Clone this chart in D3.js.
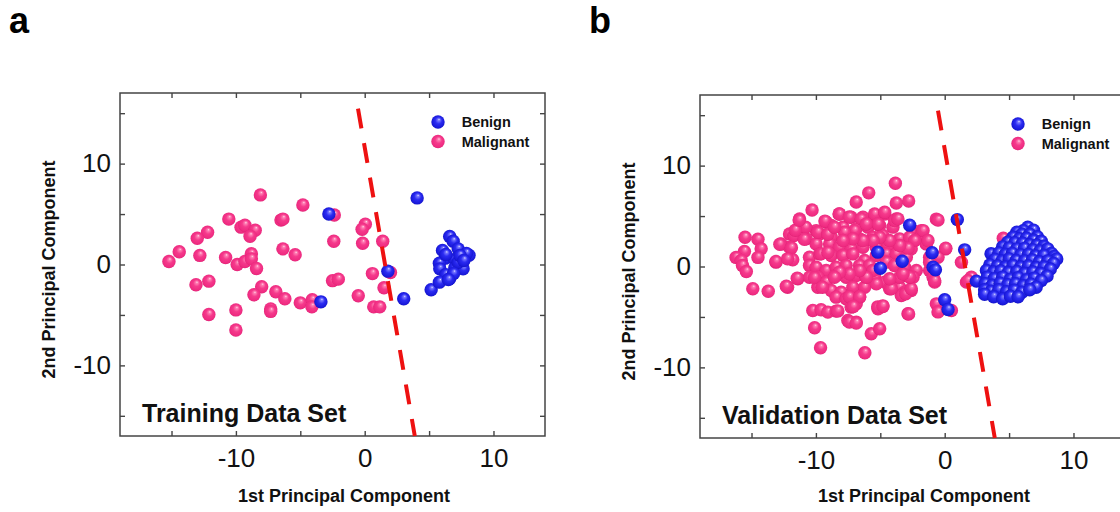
<!DOCTYPE html>
<html><head><meta charset="utf-8">
<script src="https://cdn.jsdelivr.net/npm/d3@7/dist/d3.min.js"></script>
<style>
html,body{margin:0;padding:0;background:#fff;}
text{font-family:"Liberation Sans",Arial,sans-serif;}
</style></head>
<body><svg id="c" width="1120" height="512"></svg>
<script>
// ---------- DATA ----------
const xTicks = [-15, -10, -5, 0, 5, 10];
const yTicks = [-15, -10, -5, 0, 5, 10, 15];
const labeledTicks = [-10, 0, 10];
const seriesNames = ["Benign", "Malignant"];
const panelTitles = ["Training Data Set", "Validation Data Set"];
const panelLetters = ["a", "b"];
const boundary = [[-0.52, 15.45], [3.89, -17]];

const trainMalignant = [
[-8.1,6.9],[-4.8,5.9],[-2.36,4.9],[-10.55,4.5],[-6.5,4.4],[-6.35,4.5],[-9.6,3.7],[-9.3,3.9],[-8.5,3.4],[-8.9,2.8],
[-12.2,3.2],[-13.0,2.6],[-2.4,2.3],[-14.4,1.26],[-15.2,0.3],[-12.8,0.9],[-10.8,0.7],[-9.9,0.0],[-9.3,0.3],[-8.8,1.06],
[-8.8,0.56],[-8.4,-0.4],[-6.35,1.55],[-5.4,0.96],[-13.1,-2.0],[-12.1,-1.65],[-8.0,-2.2],[-8.6,-3.0],[-6.9,-2.7],[-6.2,-3.4],
[-5.0,-3.8],[-4.07,-3.5],[-4.1,-4.2],[-2.5,-1.6],[-2.05,-1.45],[-12.1,-4.95],[-10.0,-4.5],[-7.3,-4.4],[-7.3,-4.65],[-10.0,-6.5],
[0.05,4.0],[-0.2,3.5],[-0.16,2.1],[1.4,2.3],[0.6,-0.9],[2.0,-0.8],[1.5,-2.3],[-0.5,-3.1],[0.7,-4.2],[1.17,-4.2]
];
const trainBenign = [
[-2.78,5.0],[4.07,6.6],[1.8,-0.66],[-3.4,-3.7],[3.03,-3.4],[5.16,-2.5],
[6.6,2.77],[6.87,2.3],[6.04,1.4],[7.26,1.55],[8.1,0.92],[7.9,1.1],[6.25,0.63],[7.0,0.5],[5.8,0.13],[5.83,-0.43],
[7.0,-0.33],[7.64,-0.43],[6.3,-1.0],[6.6,-1.4],[5.8,-1.75],[7.26,0.23],[7.4,0.9],[7.7,0.4],[6.9,-0.9],[6.5,-1.5],[6.3,1.0]
];

const valMalignant = [
[-3.83,8.25],[-5.9,7.3],[-6.87,6.4],[-3.76,6.3],[-2.8,6.5],[-10.3,5.6],[-8.2,5.2],
[-11.27,4.72],[-9.2,4.39],[-8.17,5.2],[-7.26,4.88],[-6.35,4.88],[-5.44,5.05],[-4.66,5.2],[-3.76,4.72],[-0.65,4.7],[-0.52,4.6],
[-12.05,3.23],[-11.0,3.9],[-9.98,3.56],[-8.81,4.06],[-7.9,3.9],[-6.87,3.73],[-5.96,3.9],[-5.05,4.06],[-4.02,3.9],[-2.46,3.56],[-1.81,3.56],
[-12.7,2.24],[-11.7,3.07],[-10.75,2.74],[-9.72,3.23],[-8.81,2.9],[-7.65,2.74],[-6.61,2.74],[-5.57,2.9],[-4.8,3.07],[-3.5,2.74],[-2.72,2.9],[-1.55,2.57],
[-12.05,1.91],[-9.98,2.24],[-8.94,2.24],[-8.17,1.91],[-7.26,1.75],[-6.35,1.91],[-5.31,1.91],[-4.41,2.08],[-3.5,1.91],[-2.6,1.75],[-1.43,2.24],[0.08,1.75],
[-13.1,0.43],[-11.9,0.76],[-10.5,0.92],[-9.72,1.25],[-8.81,1.09],[-7.9,1.09],[-7.13,1.25],[-6.22,0.59],[-5.31,1.09],[-4.54,1.25],[-3.76,1.25],[-2.98,0.92],[-1.17,0.92],[-0.52,0.92],
[-10.5,0.1],[-9.98,-0.07],[-9.2,-0.4],[-8.43,-0.07],[-7.65,0.1],[-6.61,0.1],[-5.83,0.1],[-4.54,0.43],[-3.9,0.1],[-3.11,-0.07],[-2.2,-0.4],[-1.17,-0.4],[1.3,0.43],
[-11.4,-1.22],[-10.5,-1.06],[-9.85,-1.06],[-9.2,-1.55],[-8.43,-0.89],[-7.65,-1.06],[-6.87,-0.89],[-6.09,-1.06],[-5.44,-1.06],[-4.66,-1.55],[-4.02,-1.4],[-3.24,-0.89],[-2.46,-1.06],[-0.78,-1.55],[-0.9,-1.06],[2.07,-1.06],[1.69,-1.55],
[-12.2,-2.05],[-9.85,-2.05],[-8.81,-2.38],[-8.04,-2.54],[-7.13,-2.05],[-6.22,-2.05],[-5.31,-1.72],[-4.28,-2.21],[-3.5,-2.05],[-2.6,-2.38],
[-8.43,-3.04],[-7.65,-3.2],[-6.61,-3.04],[-6.87,-3.7],[-7.26,-4.03],[-3.11,-2.54],[-3.37,-2.87],
[-10.24,-4.36],[-9.6,-4.29],[-9.07,-4.52],[-8.43,-4.42],[-5.18,-4.19],[-4.8,-3.96],[-2.85,-4.69],[-0.65,-3.7],[-0.52,-4.5],[0.52,-4.36],
[-7.52,-5.35],[-6.87,-5.51],[-10.1,-6.07],[-5.7,-6.67],[-5.05,-6.17],[-9.64,-8.05],[-6.2,-8.55],
[-15.5,2.9],[-14.5,2.7],[-14.25,1.75],[-15.55,1.5],[-14.5,0.9],[-16.2,0.9],[-15.8,0.6],[-15.7,0.1],[-15.4,-0.5],[-12.8,2.2],
[-11.9,1.85],[-13.1,0.5],[-11.8,0.66],[-12.2,0.76],[-14.9,-2.2],[-13.7,-2.45],[-12.3,-1.95],[-11.45,-1.16],[-10.8,3.9],[-10.9,2.7],
[-11.6,3.6],[-9.3,4.5],[-9.85,3.4],[-9.07,3.2],[-11.3,4.6],[-9.6,1.26],[-9.07,1.4],[-10.1,-1.1],[-9.5,-2.05],
[-3.03,-2.7],[-2.6,-2.2],[-5.2,-4.0],[-4.8,-3.9],[-7.4,-5.5],[-6.87,-5.6],[-7.4,-3.0],[-6.6,-3.0],[-7.1,-3.96],[-8.3,-4.4],[-2.8,-4.7],[-1.17,0.43],[-0.78,-1.4],
[-7.4,4.9],[-6.48,4.72],[-5.44,5.2],[-4.66,5.38],[-3.89,4.55],[-3.63,4.72],[-5.18,4.22],[-6.09,4.22],[-7.0,3.56],[-7.78,3.4],[-8.56,3.9],
[-1.68,3.56],[-1.3,2.57],[0.08,1.82],[-2.33,2.57],[-2.85,1.82],[-3.5,2.08],[-4.28,2.57],[-5.05,2.9],[-5.57,2.57],[-6.35,2.57],[-7.13,2.74],[-7.9,2.57],
[-4.15,-2.2],[-3.5,-1.06],[-2.72,-1.06],[-3.24,-0.73],[-4.28,-1.22],[-5.57,-0.4],[-6.09,-1.06],[-6.61,-0.4],[-7.4,-0.73],[-8.17,-0.56],[-8.56,-1.06],
[4.55,2.8],[1.8,-1.4]
];
const valBenign = [
[0.98,4.65],[-2.72,4.1],[-5.2,1.42],[-5.0,-0.17],[-3.3,0.52],[-0.98,1.36],[-0.9,-0.07],[-0.72,-0.33],[0.0,-3.3],[0.26,-4.26],
[1.55,1.65],[2.46,-1.45],
[6.45,3.9],[6.9,3.6],[6.1,3.55],[5.6,3.4],[6.0,3.2],[6.6,3.2],[7.2,2.95],
[5.3,2.9],[5.8,2.75],[6.35,2.8],[6.9,2.6],[7.5,2.5],[4.9,2.4],[5.45,2.35],[6.05,2.3],[6.6,2.15],[7.15,2.1],[7.7,2.0],
[4.5,1.95],[5.0,1.85],[5.6,1.75],[6.2,1.8],[6.85,1.65],[7.4,1.55],[8.0,1.75],[8.3,1.3],
[3.6,1.26],[4.2,1.35],[4.7,1.2],[5.25,1.3],[5.9,1.15],[6.5,1.2],[7.05,1.05],[7.7,1.1],[8.5,1.0],[8.7,0.75],
[3.9,0.7],[4.45,0.55],[5.0,0.75],[5.55,0.6],[6.2,0.55],[6.8,0.65],[7.35,0.45],[8.0,0.55],[8.45,0.3],
[3.5,0.15],[4.1,0.05],[4.7,-0.05],[5.3,0.1],[5.9,-0.05],[6.5,0.05],[7.1,-0.1],[7.7,-0.05],[8.2,-0.25],
[3.24,-0.4],[3.8,-0.55],[4.35,-0.45],[4.95,-0.6],[5.6,-0.5],[6.2,-0.7],[6.85,-0.55],[7.45,-0.7],[7.95,-0.95],
[3.3,-1.05],[3.85,-1.2],[4.5,-1.05],[5.1,-1.25],[5.7,-1.1],[6.35,-1.3],[6.95,-1.15],[7.5,-1.4],
[3.15,-1.7],[3.7,-1.85],[4.3,-1.65],[4.9,-1.8],[5.5,-1.7],[6.1,-1.9],[6.7,-1.75],[7.1,-2.05],
[3.1,-2.3],[3.6,-2.45],[4.2,-2.3],[4.8,-2.5],[5.4,-2.35],[6.0,-2.55],[6.6,-2.3],
[3.1,-2.75],[3.8,-3.0],[4.5,-3.2],[5.1,-2.95],[5.7,-3.0]
];

// ---------- DRAW ----------
const svg = d3.select("#c");
const defs = svg.append("defs");
function ballGrad(id, stops){
  const g = defs.append("radialGradient").attr("id", id)
    .attr("cx","50%").attr("cy","50%").attr("r","55%").attr("fx","58%").attr("fy","30%");
  stops.forEach(s => g.append("stop").attr("offset", s[0]).attr("stop-color", s[1]));
}
ballGrad("gBlue", [["0%","#e8e8ff"],["14%","#7a7aff"],["45%","#2c2cf2"],["85%","#1818d8"],["100%","#1010b0"]]);
ballGrad("gPink", [["0%","#ffe0ee"],["14%","#ff80b4"],["45%","#f53a8c"],["85%","#ee2a80"],["100%","#d01668"]]);
const fills = {Benign: "url(#gBlue)", Malignant: "url(#gPink)"};
const R = 6.7;

const panels = [
  {x0:120, x1:545, y0:93, y1:436, benign: trainBenign, malignant: trainMalignant},
  {x0:700, x1:1125, y0:95, y1:438, benign: valBenign, malignant: valMalignant}
];

panels.forEach((p, i) => {
  const x = d3.scaleLinear().domain([-19, 14]).range([p.x0, p.x1]);
  const y = d3.scaleLinear().domain([-17, 17]).range([p.y1, p.y0]);
  const g = svg.append("g");
  const fmt = d => labeledTicks.includes(d) ? String(d) : "";

  // axes
  const ax = g.append("g").attr("transform", `translate(0,${p.y1})`)
    .call(d3.axisBottom(x).tickValues(xTicks).tickSize(-5).tickPadding(13).tickFormat(fmt));
  const axT = g.append("g").attr("transform", `translate(0,${p.y0})`)
    .call(d3.axisTop(x).tickValues(xTicks).tickSize(-5).tickFormat(""));
  const ay = g.append("g").attr("transform", `translate(${p.x0},0)`)
    .call(d3.axisLeft(y).tickValues(yTicks).tickSize(-5).tickPadding(9).tickFormat(fmt));
  const ayR = g.append("g").attr("transform", `translate(${p.x1},0)`)
    .call(d3.axisRight(y).tickValues(yTicks).tickSize(-5).tickFormat(""));
  [ax, axT, ay, ayR].forEach(a => {
    a.select(".domain").remove();
    a.selectAll(".tick line").attr("stroke", "#444").attr("stroke-width", 1.4);
    a.selectAll(".tick text").attr("font-size", 26).attr("fill", "#111")
      .style("font-family", '"Liberation Sans", Arial, sans-serif');
  });
  g.append("rect").attr("x", p.x0).attr("y", p.y0)
    .attr("width", p.x1 - p.x0).attr("height", p.y1 - p.y0)
    .attr("fill", "none").attr("stroke", "#444").attr("stroke-width", 1.5);

  // points
  g.append("g").selectAll("circle").data(p.malignant).join("circle")
    .attr("cx", d => x(d[0])).attr("cy", d => y(d[1])).attr("r", R).attr("fill", fills.Malignant);
  g.append("g").selectAll("circle").data(p.benign).join("circle")
    .attr("cx", d => x(d[0])).attr("cy", d => y(d[1])).attr("r", R).attr("fill", fills.Benign);

  // decision boundary
  g.append("line")
    .attr("x1", x(boundary[0][0])).attr("y1", y(boundary[0][1]))
    .attr("x2", x(boundary[1][0])).attr("y2", y(boundary[1][1]))
    .attr("stroke", "#ee1111").attr("stroke-width", 4).attr("stroke-dasharray", "20 15");

  // legend
  seriesNames.forEach((s, k) => {
    const ly = p.y0 + 29 + k * 19.5;
    g.append("circle").attr("cx", p.x0 + 318).attr("cy", ly).attr("r", R).attr("fill", fills[s]);
    g.append("text").attr("x", p.x0 + 341.7).attr("y", ly + 5).attr("font-size", 14.5)
      .attr("font-weight", "bold").attr("fill", "#111").text(s);
  });

  // panel title
  g.append("text").attr("x", p.x0 + 22).attr("y", p.y1 - 14).attr("font-size", 25)
    .attr("font-weight", "bold").attr("fill", "#111").text(panelTitles[i]);

  // axis titles
  g.append("text").attr("x", p.x0 + 224).attr("y", 502).attr("text-anchor", "middle")
    .attr("font-size", 18).attr("font-weight", "bold").attr("fill", "#111").text("1st Principal Component");
  g.append("text").attr("transform", `translate(${p.x0 - 65},${(p.y0 + p.y1) / 2 + 5}) rotate(-90)`)
    .attr("text-anchor", "middle").attr("font-size", 18).attr("font-weight", "bold").attr("fill", "#111")
    .text("2nd Principal Component");

  // panel letter
  svg.append("text").attr("x", p.x0 - 111).attr("y", 33).attr("font-size", 36)
    .attr("font-weight", "bold").attr("fill", "#000").text(panelLetters[i]);
});
</script></body></html>
